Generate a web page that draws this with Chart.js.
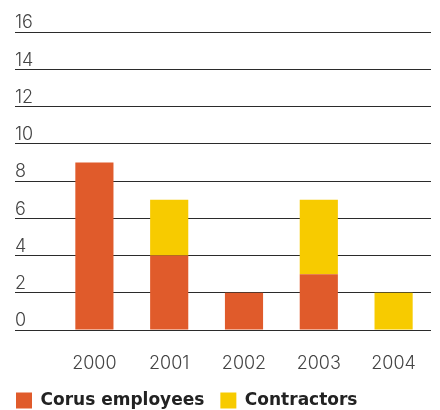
<!DOCTYPE html>
<html>
<head>
<meta charset="utf-8">
<script src="https://cdn.jsdelivr.net/npm/chart.js@4/dist/chart.umd.min.js"></script>
<style>
  html, body { margin: 0; padding: 0; background: #fff; }
  #wrap { width: 440px; height: 410px; }
</style>
</head>
<body>
<div id="wrap"><canvas id="myChart"></canvas></div>
<script>
// Lost time injuries per year
const years = ["2000", "2001", "2002", "2003", "2004"];
const corusEmployees = [9, 4, 2, 3, 0];
const contractors = [0, 3, 0, 4, 2];
const yTicks = [0, 2, 4, 6, 8, 10, 12, 14, 16];

const tickFont = { family: "Inter, 'Liberation Sans', sans-serif", size: 18, weight: "300" };

const data = {
  labels: years,
  datasets: [
    {
      label: "Corus employees",
      data: corusEmployees,
      backgroundColor: "#e05b2b",
      borderWidth: 0,
    },
    {
      label: "Contractors",
      data: contractors,
      backgroundColor: "#f7cb00",
      borderWidth: 0,
    },
  ],
};

const config = {
  type: "bar",
  data: data,
  options: {
    responsive: true,
    maintainAspectRatio: false,
    animation: false,
    layout: { padding: { left: 0, right: 9, top: 32, bottom: -9 } },
    datasets: {
      bar: { categoryPercentage: 1, barPercentage: 0.51 },
    },
    plugins: {
      tooltip: { enabled: false },
      legend: {
        position: "bottom",
        align: "start",
        labels: {
          boxWidth: 16,
          boxHeight: 16,
          padding: 16,
          color: "#222",
          font: { family: "'DejaVu Sans', sans-serif", size: 17, weight: "bold" },
        },
      },
    },
    scales: {
      x: {
        stacked: true,
        grid: { display: false },
        border: { display: false },
        afterFit: (axis) => { axis.height = 46; },
        ticks: { padding: 15, color: "#444", font: tickFont },
      },
      y: {
        stacked: true,
        min: 0,
        max: 16,
        afterBuildTicks: (axis) => { axis.ticks = yTicks.map((v) => ({ value: v })); },
        afterFit: (axis) => { axis.width = 57; },
        border: { display: false },
        grid: { color: "#2b2b2b", lineWidth: 1, tickLength: 42 },
        ticks: { mirror: true, padding: -42, labelOffset: -9, color: "#444", font: tickFont },
      },
    },
  },
};

const ctx = document.getElementById("myChart").getContext("2d");
new Chart(ctx, config);
</script>
</body>
</html>
